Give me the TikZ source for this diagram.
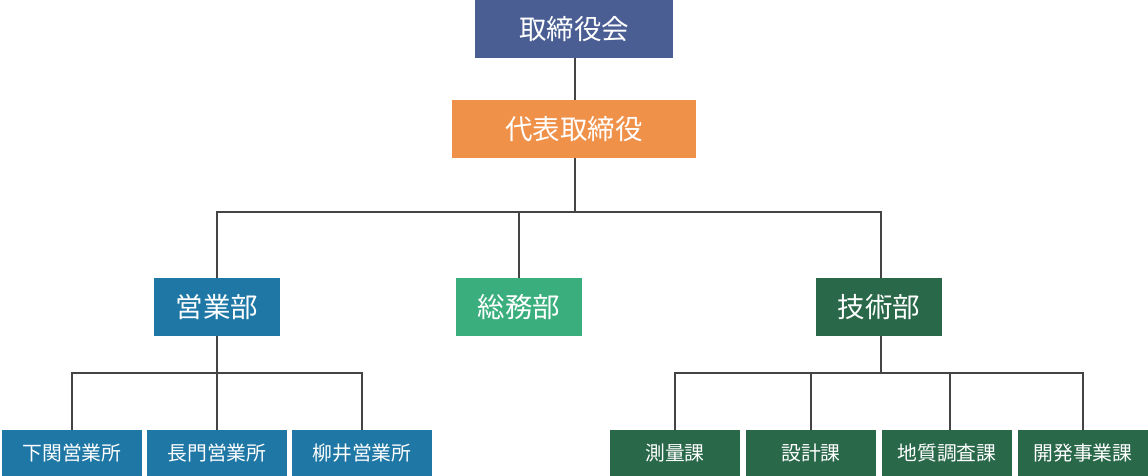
\documentclass[tikz,border=0pt]{standalone}
\usepackage{fontspec}
\setmainfont{Noto Sans CJK JP}
\definecolor{cboard}{HTML}{4A5E94}
\definecolor{cceo}{HTML}{F0914A}
\definecolor{csales}{HTML}{1F77A6}
\definecolor{cgen}{HTML}{3AAF7D}
\definecolor{ctech}{HTML}{2A684A}
\definecolor{cline}{HTML}{444444}
\tikzset{
  box/.style={inner sep=0pt, outer sep=0pt, text=white, font=\fontsize{27.5}{30}\selectfont},
  bigbox/.style={box, minimum height=58pt},
  smallbox/.style={box, minimum height=46pt, font=\fontsize{19.8}{22}\selectfont},
  conn/.style={draw=cline, line width=1.8pt},
}
\begin{document}
\begin{tikzpicture}[x=1pt,y=-1pt]
\useasboundingbox (0,0) rectangle (1148,476);
% top levels
\node[bigbox, fill=cboard, minimum width=198pt] (board) at (574,29) {取締役会};
\node[bigbox, fill=cceo, minimum width=244pt] (ceo) at (574,129) {代表取締役};
% departments
\node[bigbox, fill=csales, minimum width=126pt] (sales) at (217,307) {営業部};
\node[bigbox, fill=cgen, minimum width=126pt] (gen) at (519,307) {総務部};
\node[bigbox, fill=ctech, minimum width=126pt] (tech) at (879,307) {技術部};
% sales offices
\node[smallbox, fill=csales, minimum width=140pt] (shimo) at (72,453) {下関営業所};
\node[smallbox, fill=csales, minimum width=140pt] (naga) at (217,453) {長門営業所};
\node[smallbox, fill=csales, minimum width=140pt] (yana) at (362,453) {柳井営業所};
% tech sections
\node[smallbox, fill=ctech, minimum width=130pt] (sok) at (675,453) {測量課};
\node[smallbox, fill=ctech, minimum width=130pt] (sek) at (811,453) {設計課};
\node[smallbox, fill=ctech, minimum width=130pt] (chi) at (947,453) {地質調査課};
\node[smallbox, fill=ctech, minimum width=130pt] (kai) at (1083,453) {開発事業課};
% bus coordinates
\coordinate (busA) at (574.7,212);
\coordinate (busS) at (217,373);
\coordinate (busT) at (881,373);
% connectors
\draw[conn] ([xshift=0.7pt]board.south) -- ([xshift=0.7pt]ceo.north);
\draw[conn] ([xshift=0.7pt]ceo.south) -- (busA);
\draw[conn] (sales.north) |- (busA) -| ([xshift=2pt]tech.north);
\draw[conn] (gen.north) -- (gen.north |- busA);
\draw[conn] (sales.south) -- (busS);
\draw[conn] (shimo.north) |- (busS) -| (yana.north);
\draw[conn] (naga.north) -- (busS);
\draw[conn] ([xshift=2pt]tech.south) -- (busT);
\draw[conn] (sok.north) |- (busT) -| (kai.north);
\draw[conn] (sek.north) -- (sek.north |- busT);
\draw[conn] ([xshift=3pt]chi.north) -- ([xshift=3pt]chi.north |- busT);
\end{tikzpicture}
\end{document}
